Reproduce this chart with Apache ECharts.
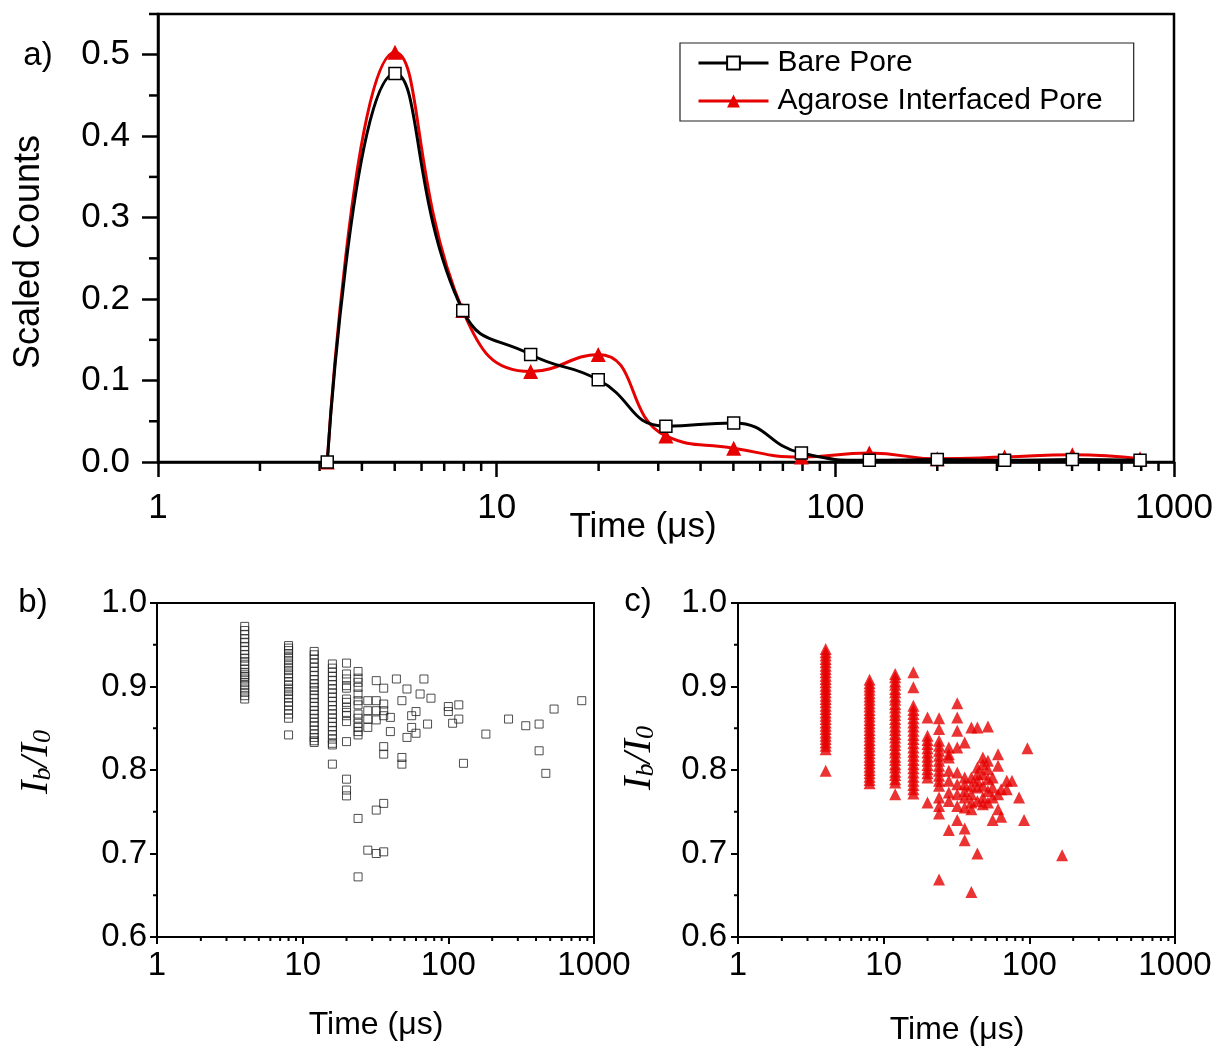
<!DOCTYPE html>
<html><head><meta charset="utf-8">
<script src="https://cdn.jsdelivr.net/npm/echarts@6/dist/echarts.min.js"></script>
<style>html,body{margin:0;padding:0;background:#fff}#c{width:1221px;height:1047px}</style>
</head><body><div id="c"></div><script>
// ---------- data ----------
const aTimes = [3.16, 5.01, 7.94, 12.6, 19.95, 31.6, 50.1, 79.4, 126, 200, 316, 501, 794];
const bareCounts = [0, 0.477, 0.186, 0.132, 0.101, 0.044, 0.048, 0.011, 0.002, 0.003, 0.002, 0.003, 0.002];
const agaroseCounts = [0, 0.503, 0.186, 0.111, 0.132, 0.032, 0.017, 0.006, 0.011, 0.004, 0.006, 0.009, 0.004];

const xTicks = [1, 10, 100, 1000];
const yTicksA = [0, 0.1, 0.2, 0.3, 0.4, 0.5];
const yTicksBC = [0.6, 0.7, 0.8, 0.9, 1.0];

// panel b: bare pore scatter, times (µs) and the I_b/I_0 values at each time
const bTimes = [4, 8, 12, 16, 20, 24, 28, 32, 36, 40, 44, 48, 52, 56, 60, 64, 68, 72, 76, 100, 107, 118, 127, 181, 259, 340, 420, 467, 532, 824];
const bValues = [
  [0.972,0.967,0.962,0.957,0.953,0.948,0.943,0.938,0.934,0.930,0.926,0.921,0.917,0.914,0.912,0.909,0.905,0.901,0.897,0.893,0.889,0.885],
  [0.949,0.946,0.943,0.939,0.935,0.931,0.927,0.923,0.919,0.915,0.911,0.906,0.902,0.898,0.894,0.890,0.886,0.881,0.877,0.872,0.867,0.862,0.842],
  [0.942,0.938,0.933,0.928,0.923,0.918,0.913,0.908,0.903,0.899,0.895,0.890,0.886,0.881,0.876,0.871,0.867,0.862,0.857,0.853,0.848,0.843,0.839,0.835,0.833],
  [0.927,0.922,0.917,0.912,0.907,0.902,0.897,0.892,0.887,0.882,0.877,0.872,0.867,0.862,0.857,0.852,0.847,0.842,0.837,0.832,0.830,0.807],
  [0.928,0.915,0.909,0.901,0.898,0.885,0.881,0.875,0.869,0.865,0.858,0.834,0.789,0.776,0.769],
  [0.918,0.910,0.905,0.899,0.891,0.883,0.878,0.867,0.862,0.856,0.851,0.846,0.842,0.742,0.672],
  [0.883,0.871,0.861,0.851,0.704],
  [0.907,0.883,0.871,0.860,0.752,0.700],
  [0.898,0.879,0.871,0.865,0.828,0.819,0.760,0.702],
  [0.863,0.846],
  [0.909],
  [0.883,0.815,0.807],
  [0.897,0.839],
  [0.865,0.851],
  [0.870,0.844],
  [0.891],
  [0.909],
  [0.855],
  [0.886],
  [0.876,0.870],
  [0.856],
  [0.878,0.861],
  [0.808],
  [0.843],
  [0.861],
  [0.853],
  [0.855,0.823],
  [0.796],
  [0.873],
  [0.883]
];

// panel c: agarose interfaced pore scatter
const cTimes = [4, 8, 12, 16, 20, 24, 28, 32, 36, 40, 44, 48, 52, 56, 61, 64, 70, 76, 85, 92, 97, 168];
const cValues = [
  [0.945,0.941,0.937,0.933,0.929,0.925,0.921,0.917,0.913,0.909,0.905,0.901,0.897,0.893,0.889,0.885,0.881,0.877,0.873,0.869,0.865,0.861,0.857,0.853,0.849,0.845,0.841,0.837,0.833,0.829,0.825,0.799],
  [0.908,0.904,0.900,0.896,0.892,0.888,0.884,0.880,0.876,0.872,0.868,0.864,0.860,0.856,0.852,0.848,0.844,0.840,0.836,0.832,0.828,0.824,0.820,0.816,0.812,0.808,0.804,0.800,0.796,0.792,0.788,0.784],
  [0.915,0.911,0.906,0.902,0.897,0.893,0.888,0.884,0.879,0.875,0.870,0.866,0.861,0.857,0.852,0.848,0.843,0.839,0.834,0.830,0.825,0.821,0.816,0.812,0.807,0.803,0.798,0.794,0.789,0.785,0.771],
  [0.917,0.899,0.877,0.872,0.867,0.862,0.857,0.852,0.847,0.842,0.837,0.832,0.827,0.822,0.817,0.812,0.807,0.802,0.797,0.792,0.787,0.782,0.777,0.772],
  [0.863,0.841,0.836,0.831,0.826,0.821,0.816,0.811,0.806,0.801,0.796,0.791,0.761],
  [0.862,0.849,0.835,0.829,0.823,0.817,0.811,0.805,0.799,0.793,0.787,0.781,0.767,0.757,0.748,0.669],
  [0.827,0.819,0.815,0.799,0.787,0.773,0.763,0.728],
  [0.880,0.863,0.847,0.827,0.797,0.783,0.771,0.757,0.740],
  [0.833,0.791,0.783,0.775,0.767,0.755,0.730,0.716],
  [0.851,0.791,0.781,0.771,0.761,0.753,0.654],
  [0.851,0.803,0.795,0.787,0.779,0.763,0.700],
  [0.815,0.807,0.795,0.781,0.767,0.759],
  [0.852,0.811,0.801,0.789,0.775,0.761],
  [0.791,0.779,0.767,0.740],
  [0.819,0.805,0.771,0.753],
  [0.777,0.744],
  [0.787,0.777],
  [0.787],
  [0.767],
  [0.740],
  [0.826],
  [0.698]
];

// ---------- chart ----------
const RED = '#e60000';
const FONT = 'Liberation Sans';
const pairs = (ts, vs) => { const out = []; ts.forEach((t, i) => vs[i].forEach(v => out.push([t, v]))); return out; };

const chart = echarts.init(document.getElementById('c'), null, {renderer: 'canvas'});

function xAxis(grid, fs, margin, lw, tickLen) {
  return {
    type: 'log', logBase: 10, min: 1, max: 1000, gridIndex: grid,
    axisLine: {show: true, lineStyle: {color: '#000', width: lw}},
    axisTick: {show: true, length: tickLen, customValues: xTicks, lineStyle: {color: '#000', width: lw}},
    axisLabel: {customValues: xTicks, fontSize: fs, color: '#000', margin: margin, fontFamily: FONT,
      formatter: v => String(Math.round(v))},
    splitLine: {show: false}
  };
}
function yAxis(grid, min, max, ticks, fs, margin, lw, tickLen) {
  return {
    type: 'value', gridIndex: grid, min: min, max: max,
    axisLine: {show: true, lineStyle: {color: '#000', width: lw}},
    axisTick: {show: true, length: tickLen, customValues: ticks, lineStyle: {color: '#000', width: lw}},
    axisLabel: {customValues: ticks, fontSize: fs, color: '#000', margin: margin, fontFamily: FONT,
      formatter: v => v.toFixed(1)},
    splitLine: {show: false}
  };
}

const option = {
  animation: false,
  backgroundColor: '#fff',
  grid: [
    {left: 158, top: 14, width: 1016, height: 448, show: true, borderColor: '#000', borderWidth: 2.5},
    {left: 157, top: 603, width: 437, height: 334, show: true, borderColor: '#000', borderWidth: 2},
    {left: 738, top: 603, width: 437, height: 334, show: true, borderColor: '#000', borderWidth: 2}
  ],
  xAxis: [xAxis(0, 35, 29, 2.5, 15), xAxis(1, 33, 12, 2, 7), xAxis(2, 33, 12, 2, 7)],
  yAxis: [yAxis(0, 0, 0.55, yTicksA, 35, 28, 2.5, 16), yAxis(1, 0.6, 1.0, yTicksBC, 33, 10, 2, 7), yAxis(2, 0.6, 1.0, yTicksBC, 33, 11, 2, 7)],
  legend: {
    data: ['Bare Pore', 'Agarose Interfaced Pore'],
    orient: 'vertical', left: 680, top: 43,
    padding: [5, 31, 5, 17], itemGap: 8, itemWidth: 70, itemHeight: 16,
    borderColor: '#222', borderWidth: 1.2,
    lineStyle: {width: 3},
    textStyle: {fontSize: 30, color: '#000', fontFamily: FONT, padding: [0, 0, 0, 4]}
  },
  series: [
    {type: 'line', name: 'Agarose Interfaced Pore', xAxisIndex: 0, yAxisIndex: 0,
      data: aTimes.map((t, i) => [t, agaroseCounts[i]]), smooth: 0.5,
      symbol: 'triangle', symbolSize: 15, lineStyle: {color: RED, width: 3}, itemStyle: {color: RED}, z: 2},
    {type: 'line', name: 'Bare Pore', xAxisIndex: 0, yAxisIndex: 0,
      data: aTimes.map((t, i) => [t, bareCounts[i]]), smooth: 0.5,
      symbol: 'rect', symbolSize: 12, lineStyle: {color: '#000', width: 3},
      itemStyle: {color: '#fff', borderColor: '#000', borderWidth: 1.5}, z: 3},
    {type: 'scatter', name: 'b', xAxisIndex: 1, yAxisIndex: 1, data: pairs(bTimes, bValues),
      symbol: 'rect', symbolSize: 8, itemStyle: {color: 'rgba(0,0,0,0)', borderColor: '#222', borderWidth: 1}},
    {type: 'scatter', name: 'c', xAxisIndex: 2, yAxisIndex: 2, data: pairs(cTimes, cValues),
      symbol: 'triangle', symbolSize: 12, itemStyle: {color: RED}}
  ]
};
chart.setOption(option);

// ---------- minor ticks + texts ----------
const g = [];
const panels = [
  {i: 0, ymin: 0, minorY: [0.05, 0.15, 0.25, 0.35, 0.45, 0.55], len: 9, lw: 2.5},
  {i: 1, ymin: 0.6, minorY: [0.65, 0.75, 0.85, 0.95], len: 4, lw: 2},
  {i: 2, ymin: 0.6, minorY: [0.65, 0.75, 0.85, 0.95], len: 4, lw: 2}
];
panels.forEach(p => {
  const yb = chart.convertToPixel({yAxisIndex: p.i}, p.ymin);
  const xl = chart.convertToPixel({xAxisIndex: p.i}, 1);
  [1, 10, 100].forEach(d => {
    for (let m = 2; m <= 9; m++) {
      const x = chart.convertToPixel({xAxisIndex: p.i}, m * d);
      g.push({type: 'line', silent: true, shape: {x1: x, y1: yb, x2: x, y2: yb + p.len}, style: {stroke: '#000', lineWidth: p.lw}});
    }
  });
  p.minorY.forEach(v => {
    const y = chart.convertToPixel({yAxisIndex: p.i}, v);
    g.push({type: 'line', silent: true, shape: {x1: xl - p.len, y1: y, x2: xl, y2: y}, style: {stroke: '#000', lineWidth: p.lw}});
  });
});
function txt(x, y, text, fs, rot) {
  return {type: 'text', x: x, y: y, rotation: rot || 0, silent: true,
    style: {text: text, fontSize: fs, fontFamily: FONT, fill: '#000', align: 'center', verticalAlign: 'middle'}};
}
g.push(txt(38, 56, 'a)', 33));
g.push(txt(33, 603, 'b)', 33));
g.push(txt(638, 602, 'c)', 33));
g.push(txt(29, 252, 'Scaled Counts', 36, Math.PI / 2));
g.push(txt(643, 527, 'Time (μs)', 35));
g.push(txt(376, 1025, 'Time (μs)', 32));
g.push(txt(957, 1030, 'Time (μs)', 32));
const ibRich = {
  i: {fontFamily: 'Liberation Serif', fontStyle: 'italic', fontSize: 40, verticalAlign: 'bottom', fill: '#000'},
  s: {fontFamily: 'Liberation Serif', fontStyle: 'italic', fontSize: 26, verticalAlign: 'bottom', fill: '#000'}
};
[[36, 762], [639, 758]].forEach(([x, y]) => {
  g.push({type: 'text', x: x, y: y, rotation: Math.PI / 2, silent: true,
    style: {text: '{i|I}{s|b}{i|/I}{s|0}', rich: ibRich, align: 'center', verticalAlign: 'middle'}});
});
chart.setOption({graphic: g});
</script></body></html>
